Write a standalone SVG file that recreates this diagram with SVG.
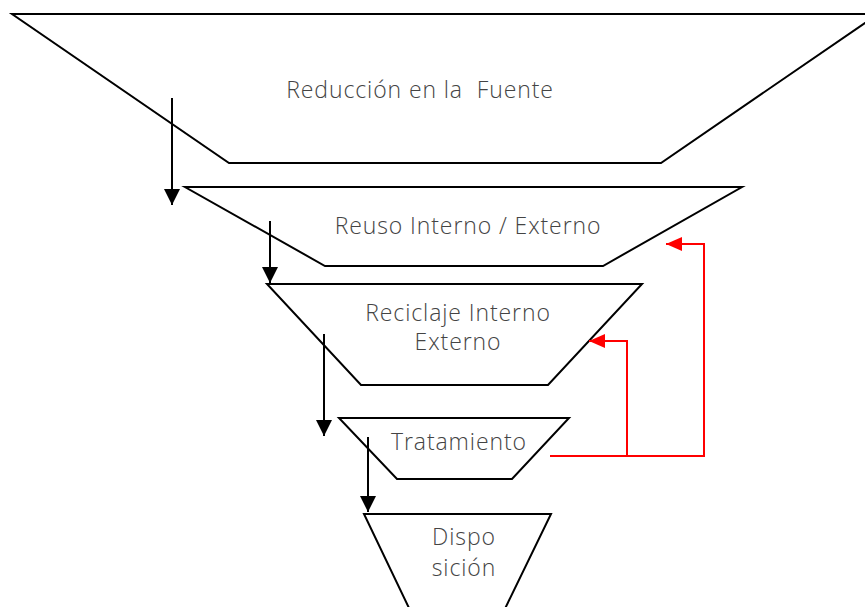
<svg xmlns="http://www.w3.org/2000/svg" width="865" height="607" viewBox="0 0 865 607">
<style>
.shape{fill:#fff;stroke:#000;stroke-width:2;stroke-linejoin:miter}
.lbl{font-family:"Open Sans","Liberation Sans",sans-serif;font-weight:300;font-size:23px;letter-spacing:0.9px;fill:#444;text-anchor:middle;white-space:pre}
.blk{stroke:#000;stroke-width:2;fill:none}
.red{stroke:#ff0000;stroke-width:2;fill:none}
</style>
<defs>
<marker id="ab" markerUnits="userSpaceOnUse" markerWidth="16" markerHeight="16" viewBox="0 0 16 16" refX="16" refY="8" orient="auto"><path d="M0,0 L16,8 L0,16 Z" fill="#000"/></marker>
<marker id="ar" markerUnits="userSpaceOnUse" markerWidth="16" markerHeight="14" viewBox="0 0 16 14" refX="16" refY="7" orient="auto"><path d="M0,0 L16,7 L0,14 Z" fill="#ff0000"/></marker>
</defs>
<rect width="865" height="607" fill="#fff"/>
<g id="n1"><polygon class="shape" points="12,14 878,14 661,163 229,163"/><text class="lbl" x="420" y="98">Reducción en la  Fuente</text></g>
<g id="n2"><polygon class="shape" points="185,187 742,187 603,266 325,266"/><text class="lbl" x="468" y="234">Reuso Interno / Externo</text></g>
<g id="n3"><polygon class="shape" points="267,284 642,284 548,385 361,385"/><text class="lbl" x="458" y="321">Reciclaje Interno</text><text class="lbl" x="458" y="350">Externo</text></g>
<g id="n4"><polygon class="shape" points="339,418 569,418 512,479 397,479"/><text class="lbl" x="459" y="450">Tratamiento</text></g>
<g id="n5"><polygon class="shape" points="364,514 551,514 483,654 431,654"/><text class="lbl" x="464" y="545">Dispo</text><text class="lbl" x="464" y="576">sición</text></g>
<g id="connectors">
<line class="blk" x1="172" y1="98" x2="172" y2="205" marker-end="url(#ab)"/>
<line class="blk" x1="270" y1="221" x2="270" y2="283" marker-end="url(#ab)"/>
<line class="blk" x1="324" y1="334" x2="324" y2="436" marker-end="url(#ab)"/>
<line class="blk" x1="368" y1="437" x2="368" y2="512" marker-end="url(#ab)"/>
<polyline class="red" points="550,456 704,456 704,244 666,244" marker-end="url(#ar)"/>
<polyline class="red" points="627,456 627,341 589,341" marker-end="url(#ar)"/>
</g>
</svg>
